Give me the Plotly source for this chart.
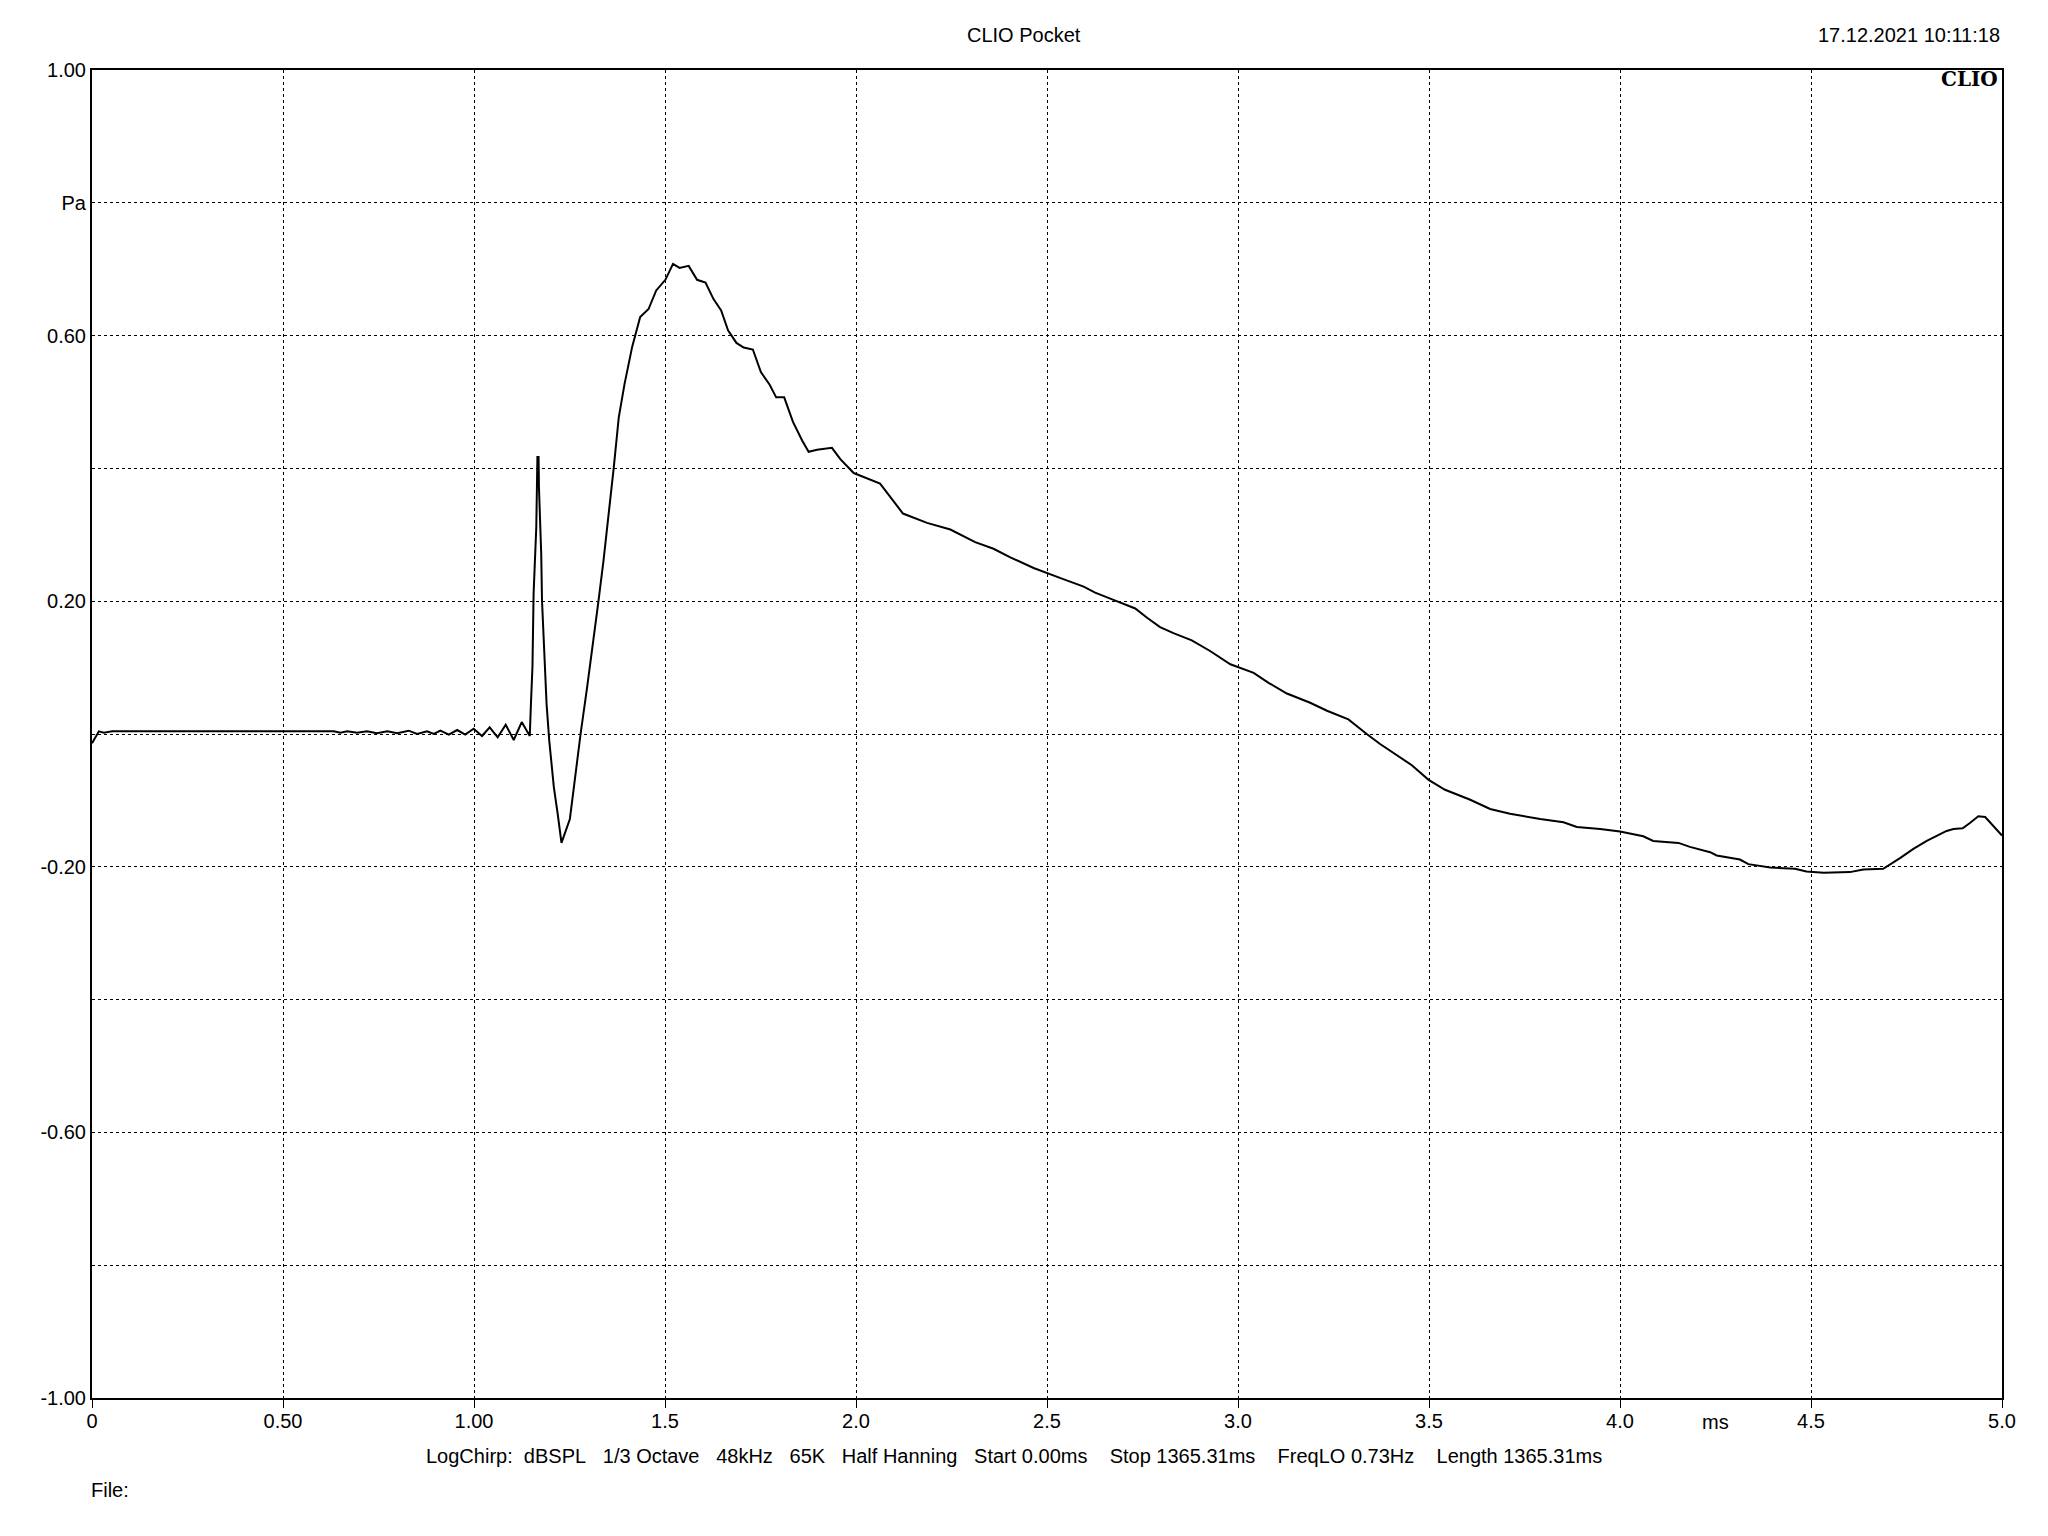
import plotly.graph_objects as go

# ---- data ----
time_ms = [0.000, 0.018, 0.031, 0.053, 0.633, 0.650, 0.668, 0.694, 0.720, 0.746,
           0.773, 0.799, 0.829, 0.851, 0.877, 0.895, 0.912, 0.934, 0.956, 0.977,
           0.999, 1.021, 1.041, 1.062, 1.083, 1.104, 1.125, 1.146, 1.149, 1.153,
           1.156, 1.160, 1.163, 1.166, 1.169, 1.170, 1.176, 1.178, 1.183, 1.190,
           1.197, 1.209, 1.219, 1.229, 1.251, 1.265, 1.279, 1.296, 1.313, 1.326,
           1.339, 1.348, 1.366, 1.379, 1.394, 1.414, 1.435, 1.457, 1.477, 1.501,
           1.521, 1.538, 1.562, 1.584, 1.606, 1.627, 1.647, 1.665, 1.687, 1.706,
           1.730, 1.751, 1.774, 1.791, 1.812, 1.835, 1.859, 1.876, 1.898, 1.937,
           1.959, 1.994, 2.020, 2.063, 2.123, 2.147, 2.186, 2.247, 2.312, 2.360,
           2.404, 2.465, 2.500, 2.539, 2.596, 2.626, 2.674, 2.731, 2.762, 2.796,
           2.831, 2.879, 2.927, 2.980, 3.041, 3.080, 3.128, 3.189, 3.233, 3.289,
           3.337, 3.372, 3.455, 3.499, 3.542, 3.608, 3.660, 3.712, 3.791, 3.852,
           3.887, 3.948, 4.000, 4.061, 4.087, 4.153, 4.183, 4.236, 4.253, 4.314,
           4.336, 4.393, 4.458, 4.488, 4.533, 4.602, 4.637, 4.689, 4.733, 4.768,
           4.803, 4.855, 4.873, 4.897, 4.916, 4.938, 4.956, 4.977, 5.000]
pressure_pa = [-0.014, 0.004, 0.002, 0.004, 0.004, 0.002, 0.004, 0.002, 0.004, 0.001,
               0.004, 0.001, 0.005, 0.000, 0.004, 0.000, 0.005, -0.001, 0.006, -0.001,
               0.008, -0.003, 0.010, -0.005, 0.014, -0.009, 0.018, -0.003, 0.045, 0.101,
               0.211, 0.261, 0.311, 0.417, 0.417, 0.372, 0.271, 0.201, 0.141, 0.045,
               -0.010, -0.080, -0.120, -0.164, -0.128, -0.060, 0.000, 0.070, 0.141, 0.201,
               0.261, 0.306, 0.402, 0.477, 0.527, 0.583, 0.628, 0.640, 0.668, 0.684,
               0.708, 0.702, 0.705, 0.684, 0.680, 0.655, 0.638, 0.608, 0.589, 0.582,
               0.579, 0.545, 0.526, 0.507, 0.507, 0.470, 0.442, 0.425, 0.428, 0.431,
               0.414, 0.393, 0.387, 0.377, 0.332, 0.327, 0.318, 0.308, 0.289, 0.279,
               0.266, 0.250, 0.242, 0.234, 0.222, 0.213, 0.202, 0.189, 0.175, 0.161,
               0.152, 0.141, 0.125, 0.105, 0.092, 0.077, 0.061, 0.047, 0.035, 0.022,
               0.000, -0.015, -0.047, -0.069, -0.084, -0.099, -0.113, -0.120, -0.128, -0.133,
               -0.140, -0.143, -0.147, -0.154, -0.161, -0.164, -0.170, -0.178, -0.183, -0.189,
               -0.196, -0.201, -0.203, -0.207, -0.209, -0.208, -0.204, -0.203, -0.187, -0.173,
               -0.161, -0.146, -0.143, -0.142, -0.134, -0.124, -0.125, -0.138, -0.153]

x_tick_vals = [0, 0.5, 1.0, 1.5, 2.0, 2.5, 3.0, 3.5, 4.0, 4.5, 5.0]
x_tick_text = ["0", "0.50", "1.00", "1.5", "2.0", "2.5", "3.0", "3.5", "4.0", "4.5", "5.0"]
y_tick_vals = [-1.0, -0.8, -0.6, -0.4, -0.2, 0.0, 0.2, 0.4, 0.6, 0.8, 1.0]
y_tick_text = ["-1.00", "", "-0.60", "", "-0.20", "", "0.20", "", "0.60", "Pa", "1.00"]

title_text = "CLIO Pocket"
date_text = "17.12.2021 10:11:18"
x_unit = "ms"
x_unit_pos = 4.25
sp = "\u00a0"
info_items = ["LogChirp:", "dBSPL", "1/3 Octave", "48kHz", "65K", "Half Hanning",
              "Start 0.00ms", "Stop 1365.31ms", "FreqLO 0.73Hz", "Length 1365.31ms"]
info_gaps = [2, 3, 3, 3, 3, 3, 4, 4, 4]
file_text = "File:"

FONT = "Liberation Sans, Arial, sans-serif"
FS = 20

info_text = info_items[0]
for g, item in zip(info_gaps, info_items[1:]):
    info_text += sp * g + item

fig = go.Figure()
fig.add_trace(go.Scatter(x=time_ms, y=pressure_pa, mode="lines",
                         line=dict(color="black", width=2), showlegend=False,
                         hoverinfo="skip"))

# page body has an 8px margin: shrink the figure by that amount
fig.update_layout(
    width=2040, height=1528,
    margin=dict(l=84, r=46, t=62, b=138, autoexpand=False),
    paper_bgcolor="white", plot_bgcolor="white",
    font=dict(family=FONT, size=FS, color="black"),
    xaxis=dict(range=[0, 5], tickvals=x_tick_vals, ticktext=x_tick_text,
               showgrid=True, gridcolor="black", gridwidth=1, griddash="dot",
               showline=True, linecolor="black", linewidth=2, mirror=True,
               ticks="outside", ticklen=8, tickwidth=1, tickcolor="black",
               ticklabelstandoff=-4,
               zeroline=False, tickfont=dict(family=FONT, size=FS)),
    yaxis=dict(range=[-1, 1], tickvals=y_tick_vals, ticktext=y_tick_text,
               showgrid=True, gridcolor="black", gridwidth=1, griddash="dot",
               showline=True, linecolor="black", linewidth=2, mirror=True,
               ticks="", zeroline=False, tickfont=dict(family=FONT, size=FS)),
)

annotations = [
    dict(text=title_text, x=0.488, y=1.0264, xref="paper", yref="paper",
         xanchor="center", yanchor="middle", showarrow=False,
         font=dict(family=FONT, size=FS)),
    dict(text=date_text, x=1.0, y=1.0264, xref="paper", yref="paper",
         xanchor="right", yanchor="middle", showarrow=False,
         font=dict(family=FONT, size=FS)),
    dict(text="<b>CLIO</b>", x=0.999, y=1.0, yshift=5, xref="paper", yref="paper",
         xanchor="right", yanchor="top", showarrow=False,
         font=dict(family="DejaVu Serif, serif", size=20, color="black")),
    dict(text=x_unit, x=x_unit_pos, y=-0.0182, xref="x", yref="paper",
         xanchor="center", yanchor="middle", showarrow=False,
         font=dict(family=FONT, size=FS)),
    dict(text=info_text, x=0.174, y=-0.0433, xref="paper", yref="paper",
         xanchor="left", yanchor="middle", showarrow=False,
         font=dict(family=FONT, size=FS)),
    dict(text=file_text, x=0.0, xshift=-3, y=-0.069, xref="paper", yref="paper",
         xanchor="left", yanchor="middle", showarrow=False,
         font=dict(family=FONT, size=FS)),
]
fig.update_layout(annotations=annotations)

fig.write_html("out.html")
